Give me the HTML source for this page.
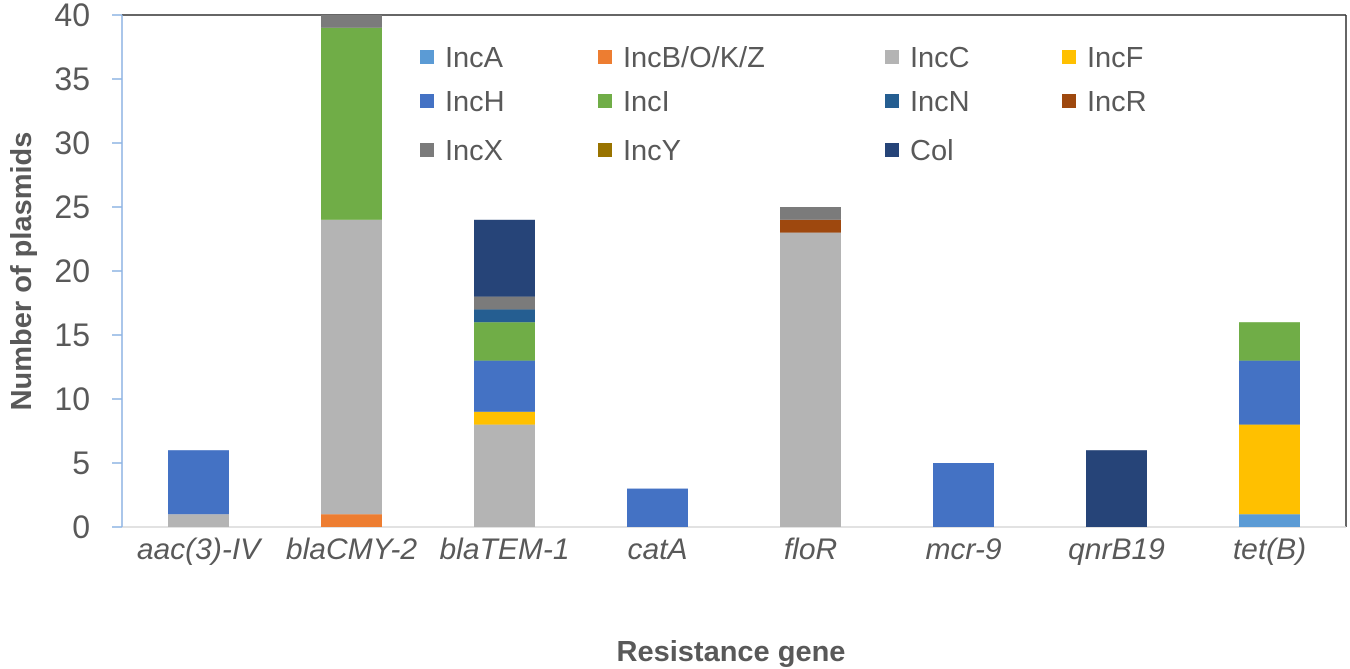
<!DOCTYPE html>
<html><head><meta charset="utf-8"><style>
html,body{margin:0;padding:0;background:#fff;}
svg{display:block;font-family:"Liberation Sans","DejaVu Sans",sans-serif;}
</style></head><body>
<svg id="chart" width="1350" height="669">
<rect x="0" y="0" width="1350" height="669" fill="#fff"/>
</svg>
<script>
const categories=["aac(3)-IV","blaCMY-2","blaTEM-1","catA","floR","mcr-9","qnrB19","tet(B)"];
const seriesNames=["IncA","IncB/O/K/Z","IncC","IncF","IncH","IncI","IncN","IncR","IncX","IncY","Col"];
const seriesColors=["#5b9bd5","#ed7d31","#b4b4b4","#ffc000","#4472c4","#70ad47","#255e91","#9e480e","#7b7b7b","#997300","#264478"];
const IncA=[0,0,0,0,0,0,0,1];
const IncBOKZ=[0,1,0,0,0,0,0,0];
const IncC=[1,23,8,0,23,0,0,0];
const IncF=[0,0,1,0,0,0,0,7];
const IncH=[5,0,4,3,0,5,0,5];
const IncI=[0,15,3,0,0,0,0,3];
const IncN=[0,0,1,0,0,0,0,0];
const IncR=[0,0,0,0,1,0,0,0];
const IncX=[0,1,1,0,1,0,0,0];
const IncY=[0,0,0,0,0,0,0,0];
const Col=[0,0,6,0,0,0,6,0];
const yTicks=[0,5,10,15,20,25,30,35,40];
const series=[IncA,IncBOKZ,IncC,IncF,IncH,IncI,IncN,IncR,IncX,IncY,Col];

const NS="http://www.w3.org/2000/svg";
const svg=document.getElementById('chart');
const L=122,R=1346,T=15,B=527,yMax=40;
const yS=v=>B-(v/yMax)*(B-T);
const band=(R-L)/categories.length;
const xC=i=>L+band*(i+0.5);
const bw=61;
function mk(tag,attrs,parent){const e=document.createElementNS(NS,tag);for(const k in attrs)e.setAttribute(k,attrs[k]);(parent||svg).appendChild(e);return e;}

mk('line',{x1:L,y1:T,x2:R,y2:T,stroke:'#333','stroke-width':1.5});
mk('line',{x1:R,y1:T,x2:R,y2:B,stroke:'#333','stroke-width':1.5});
mk('line',{x1:L,y1:B,x2:R,y2:B,stroke:'#d9d9d9','stroke-width':1.5});
const yAxis=mk('line',{x1:L,y1:T,x2:L,y2:B,stroke:'#8eb4e3','stroke-width':1.5});



yTicks.forEach(t=>{
  const y=yS(t);
  mk('line',{x1:L-10,y1:y,x2:L,y2:y,stroke:'#8eb4e3','stroke-width':1.5});
  const tx=mk('text',{x:90,y:y+11,'text-anchor':'end','font-size':32,fill:'#595959'});
  tx.textContent=t;
  
  
});

categories.forEach((c,i)=>{
  let acc=0;
  series.forEach((s,k)=>{
    const v=s[i]; if(!v) return;
    const r=mk('rect',{x:xC(i)-bw/2,y:yS(acc+v),width:bw,height:yS(acc)-yS(acc+v),fill:seriesColors[k]});
    
    
    acc+=v;
  });
  const tx=mk('text',{x:xC(i),y:559,'text-anchor':'middle','font-size':30,'font-style':'italic',fill:'#595959'});
  tx.textContent=c;
  
  
});

const colX=[420,598,885,1062], rowY=[57,101,150];
seriesNames.forEach((n,k)=>{
  const cx=colX[k%4], cy=rowY[Math.floor(k/4)];
  const g=mk('g',{});
  
  
  mk('rect',{x:cx,y:cy-7,width:14,height:14,fill:seriesColors[k]},g);
  const t=mk('text',{x:cx+25,y:cy+10,'font-size':29,fill:'#595959'},g);
  t.textContent=n;
});

const yt=mk('text',{x:0,y:0,transform:'translate(31,271) rotate(-90)','text-anchor':'middle','font-size':29,'font-weight':'bold',fill:'#595959'});
yt.textContent='Number of plasmids';


const xt=mk('text',{x:731,y:661,'text-anchor':'middle','font-size':29,'font-weight':'bold',fill:'#595959'});
xt.textContent='Resistance gene';


</script>
</body></html>
